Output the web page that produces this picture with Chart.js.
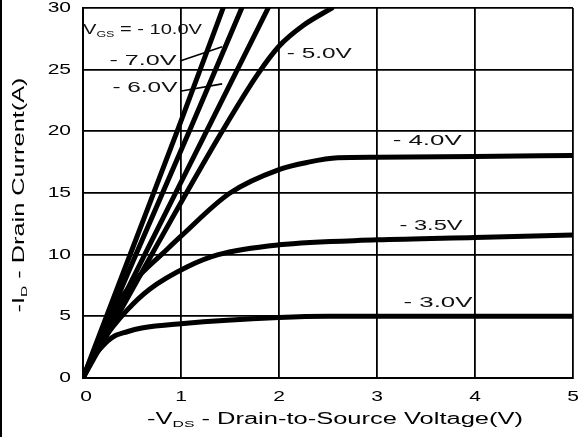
<!DOCTYPE html>
<html><head><meta charset="utf-8">
<script src="https://cdn.jsdelivr.net/npm/chart.js@4/dist/chart.umd.min.js"></script>
<style>html,body{margin:0;padding:0;background:#fff;}canvas{display:block;}</style>
</head><body>
<canvas id="c" width="579" height="437"></canvas>
<script>
// ---- data ----
const xTickLabels = ['0','1','2','3','4','5'];
const yTickLabels = ['0','5','10','15','20','25','30'];
const seriesNames = ['- 10.0V','- 7.0V','- 6.0V','- 5.0V','- 4.0V','- 3.5V','- 3.0V'];

const vds_10 = [0, 0.5, 0.97, 1.43];
const id_10  = [0, 10.4, 20.2, 30];
const vds_7  = [0, 0.55, 1.09, 1.62];
const id_7   = [0, 10.2, 20.1, 30];
const vds_6  = [0, 0.63, 1.26, 1.89];
const id_6   = [0, 10.0, 20.0, 30];
const vds_5  = [0, 0.35, 0.7, 1.42, 1.78, 2.0, 2.25, 2.54];
const id_5   = [0, 5.0, 10.0, 20.0, 24.6, 26.9, 28.6, 30];
const vds_4  = [0, 0.2, 0.4, 0.6, 0.8, 1.0, 1.5, 2.0, 2.3, 2.6, 3.0, 4.0, 5.0];
const id_4   = [0, 3.8, 6.6, 8.5, 10.0, 11.5, 15.0, 16.9, 17.5, 17.85, 17.9, 17.95, 18.05];
const vds_35 = [0, 0.2, 0.45, 0.68, 1.06, 1.38, 2.0, 3.0, 4.0, 5.0];
const id_35  = [0, 3.0, 5.5, 7.2, 9.0, 10.0, 10.8, 11.2, 11.4, 11.6];
const vds_3  = [0, 0.1, 0.2, 0.3, 0.45, 0.6, 1.0, 2.0, 2.5, 5.0];
const id_3   = [0, 1.6, 2.6, 3.3, 3.75, 4.05, 4.4, 4.9, 5.0, 5.0];

const curves = [[vds_10,id_10],[vds_7,id_7],[vds_6,id_6],[vds_5,id_5],[vds_4,id_4],[vds_35,id_35],[vds_3,id_3]];

// ---- annotation layout (data units) ----
const labelSpots = [
  {segs:[['V',0],['GS',1],[' = - 10.0V',0]], x:0.0,  y:28.2, w:119},
  {segs:[[seriesNames[1],0]], x:0.27, y:25.75, w:67},
  {segs:[[seriesNames[2],0]], x:0.30, y:23.5,  w:65},
  {segs:[[seriesNames[3],0]], x:2.08, y:26.3,  w:65},
  {segs:[[seriesNames[4],0]], x:3.16, y:19.2,  w:69},
  {segs:[[seriesNames[5],0]], x:3.23, y:12.3,  w:63},
  {segs:[[seriesNames[6],0]], x:3.27, y:6.1,   w:69}
];
const leaders = [
  [0.99, 25.7, 1.42, 26.85],
  [0.99, 23.25, 1.42, 23.85]
];

const FONT = '"Liberation Sans", Arial, sans-serif';

function drawSegs(ctx, segs, x, y, size, opts) {
  opts = opts || {};
  const subSize = size * 0.62;
  let nat = 0;
  const widths = segs.map(([t, sub]) => {
    ctx.font = (sub ? subSize : size) + 'px ' + FONT;
    const w = ctx.measureText(t).width; nat += w; return w;
  });
  const sx = opts.w ? opts.w / nat : (opts.sx || 1);
  ctx.save();
  ctx.translate(x, y);
  if (opts.rotate) ctx.rotate(-Math.PI / 2);
  ctx.scale(sx, 1);
  let cx = opts.align === 'center' ? -nat / 2 : opts.align === 'right' ? -nat : 0;
  ctx.fillStyle = opts.color || '#000';
  ctx.textBaseline = 'middle';
  ctx.textAlign = 'left';
  segs.forEach(([t, sub], i) => {
    ctx.font = (sub ? subSize : size) + 'px ' + FONT;
    ctx.fillText(t, cx, sub ? size * 0.28 : 0);
    cx += widths[i];
  });
  ctx.restore();
}

const decor = {
  id: 'decor',
  afterDraw(chart) {
    const ctx = chart.ctx, xs = chart.scales.x, ys = chart.scales.y;
    xs.ticks.forEach((t, i) => {
      drawSegs(ctx, [[xTickLabels[i], 0]], xs.getPixelForValue(t.value) + (i === 0 ? 3 : 0), 397, 14, {sx: 1.5, align: 'center'});
    });
    ys.ticks.forEach((t, i) => {
      drawSegs(ctx, [[yTickLabels[i], 0]], 71, ys.getPixelForValue(t.value), 14, {sx: 1.5, align: 'right'});
    });
    drawSegs(ctx, [['-V',0],['DS',1],[' - Drain-to-Source Voltage(V)',0]], 335, 420, 16, {w: 376, align: 'center'});
    drawSegs(ctx, [['-I',0],['D',1],[' - Drain Current(A)',0]], 20, 195, 16, {w: 235, align: 'center', rotate: true});
    labelSpots.forEach(l => {
      drawSegs(ctx, l.segs, xs.getPixelForValue(l.x), ys.getPixelForValue(l.y), 15, {w: l.w, align: 'left', color: '#111'});
    });
    ctx.save();
    ctx.strokeStyle = '#000'; ctx.lineWidth = 1.6;
    leaders.forEach(([a, b, c, d]) => {
      ctx.beginPath();
      ctx.moveTo(xs.getPixelForValue(a), ys.getPixelForValue(b));
      ctx.lineTo(xs.getPixelForValue(c), ys.getPixelForValue(d));
      ctx.stroke();
    });
    ctx.fillStyle = '#000';
    ctx.fillRect(0, 0, 2, chart.height);
    ctx.restore();
  }
};

const datasets = curves.map(([xv, yv], i) => ({
  label: seriesNames[i],
  data: xv.map((v, j) => ({x: v, y: yv[j]})),
  showLine: true,
  borderColor: '#000',
  backgroundColor: '#000',
  borderWidth: 5,
  pointRadius: 0,
  cubicInterpolationMode: 'monotone',
  borderCapStyle: 'round',
  borderJoinStyle: 'round',
  fill: false
}));

new Chart(document.getElementById('c'), {
  type: 'scatter',
  data: {datasets},
  options: {
    responsive: false,
    animation: false,
    devicePixelRatio: 1,
    layout: {padding: {top: 8, right: 6, left: 0, bottom: 0}},
    plugins: {legend: {display: false}, tooltip: {enabled: false}},
    scales: {
      x: {
        type: 'linear', min: 0, max: 5,
        ticks: {stepSize: 1, display: false},
        grid: {color: '#000', lineWidth: 1.8, drawTicks: false},
        border: {display: true, color: '#000', width: 2},
        afterFit(s) { s.height = 59; }
      },
      y: {
        type: 'linear', min: 0, max: 30,
        ticks: {stepSize: 5, display: false},
        grid: {color: '#000', lineWidth: 1.8, drawTicks: false},
        border: {display: true, color: '#000', width: 2},
        afterFit(s) { s.width = 83; }
      }
    }
  },
  plugins: [decor]
});
</script>
</body></html>
